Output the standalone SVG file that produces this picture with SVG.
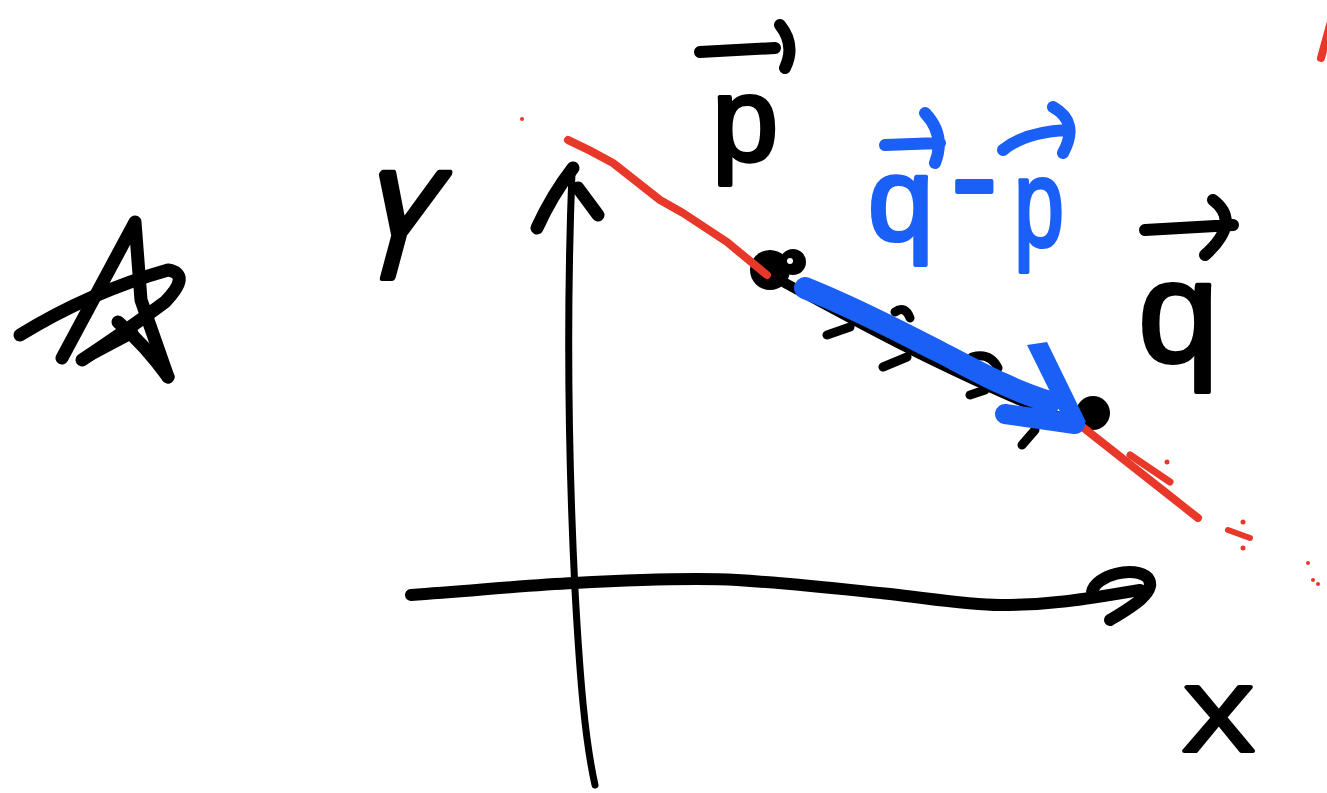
<svg xmlns="http://www.w3.org/2000/svg" width="1327" height="793" viewBox="0 0 1327 793">
<style>
.ink{fill:none;stroke:#000;stroke-linecap:round;stroke-linejoin:round}
.red{fill:none;stroke:#e8382a;stroke-linecap:round;stroke-linejoin:round}
.blue{fill:none;stroke:#1a5ff6;stroke-linecap:round;stroke-linejoin:round}
.lbl{font-family:"Liberation Sans","Arial",sans-serif;stroke-linejoin:round;stroke-width:4}
.blk{fill:#000;stroke:#000}
.bl{fill:#1a5ff6;stroke:#1a5ff6}
.dot{fill:#e8382a}
</style>
<rect width="1327" height="793" fill="#fff"/>

<g id="star">
<path class="ink" stroke-width="13" d="M62,358 L135,222 L141,300 L168,377"/>
<path class="ink" stroke-width="13" d="M168,377 Q145,345 118,322"/>
<path class="ink" stroke-width="13" d="M20,335 Q90,292 168,270 Q192,274 165,302 Q130,328 82,360"/>
<path class="ink" stroke-width="11" d="M82,360 L133,333"/>
</g>

<g id="connectors">
<g id="y-axis">
<path class="ink" stroke-width="7" d="M572,172 C567,300 568,450 575,590 C580,680 585,740 595,785"/>
<path class="ink" stroke-width="13" d="M573,168 Q552,195 537,228"/>
<path class="ink" stroke-width="13" d="M578,188 L598,215"/>
</g>
<g id="x-axis">
<path class="ink" stroke-width="12" d="M411,595 C480,590 530,585 574,583 C650,579 700,578 737,580 C800,584 850,590 890,594 C940,600 970,605 1000,605 C1050,605 1080,600 1140,590"/>
<path class="ink" stroke-width="12" d="M1092,592 C1095,575 1135,565 1148,578 C1158,592 1130,608 1110,620"/>
</g>
<g id="segment">
<path class="ink" stroke-width="10" d="M785,283 C850,318 950,375 1080,425"/>
<path class="ink" stroke-width="9" d="M827,335 L850,327 M883,367 L907,357 M970,395 L985,390 M1022,445 L1035,430 M895,312 Q905,305 910,318 M972,357 Q990,352 998,368"/>
<circle cx="770" cy="270" r="20"/>
<circle cx="793" cy="262" r="13"/>
<circle cx="790" cy="261" r="3" fill="#fff"/>
<circle cx="1093" cy="413" r="17"/>
</g>
<g id="red-line">
<path class="red" stroke-width="8" d="M568,140 Q590,150 613,163 L660,200 L683,213 L727,242 L767,275"/>
<path class="red" stroke-width="8" d="M1080,425 L1198,518"/>
<path class="red" stroke-width="7" d="M1130,455 L1170,482"/>
<path class="red" stroke-width="6" d="M1228,530 L1250,538"/>
<path class="red" stroke-width="8" d="M1321,58 L1330,25"/>
<circle class="dot" cx="522" cy="119" r="2"/>
<circle class="dot" cx="1167" cy="462" r="2.5"/>
<circle class="dot" cx="1243" cy="522" r="2.5"/>
<circle class="dot" cx="1243" cy="548" r="2.5"/>
<circle class="dot" cx="1308" cy="563" r="2"/>
<circle class="dot" cx="1313" cy="580" r="2"/>
<circle class="dot" cx="1318" cy="584" r="2"/>
</g>
<g id="blue-arrow">
<path class="blue" stroke-width="22" d="M805,288 C860,310 900,332 940,352 C975,370 1010,390 1050,402"/>
<polygon fill="#1a5ff6" points="1027,345 1047,342 1086,422 1068,428"/>
<path class="blue" stroke-width="20" d="M1005,414 L1075,424"/>
</g>
</g>

<g id="label-y">
<text class="lbl blk" font-size="150" style="stroke-width:8" textLength="72" lengthAdjust="spacingAndGlyphs" transform="translate(352,277) skewX(-15)" x="0" y="0">Y</text>
</g>
<g id="label-x">
<text class="lbl blk" font-size="92" textLength="73" lengthAdjust="spacingAndGlyphs" x="1182" y="751">X</text>
</g>
<g id="label-p">
<path class="ink" stroke-width="12" d="M700,52 L775,48 M780,25 Q796,45 785,68"/>
<text class="lbl blk" font-size="119" x="712" y="160">p</text>
</g>
<g id="label-q">
<path class="ink" stroke-width="12" d="M1145,230 L1233,225 M1213,200 Q1242,222 1205,255"/>
<text class="lbl blk" font-size="145" x="1138" y="362">q</text>
</g>
<g id="label-q-minus-p">
<path class="blue" stroke-width="12" d="M885,145 L940,143 M925,113 Q946,135 935,163 M1003,150 Q1025,132 1067,130 M1053,107 Q1080,122 1063,153"/>
<text class="lbl bl"><tspan font-size="118" x="868" y="240">q</tspan><tspan font-size="140" x="951" y="224">-</tspan><tspan font-size="125" x="1014" y="246" textLength="50" lengthAdjust="spacingAndGlyphs">p</tspan></text>
</g>
</svg>
